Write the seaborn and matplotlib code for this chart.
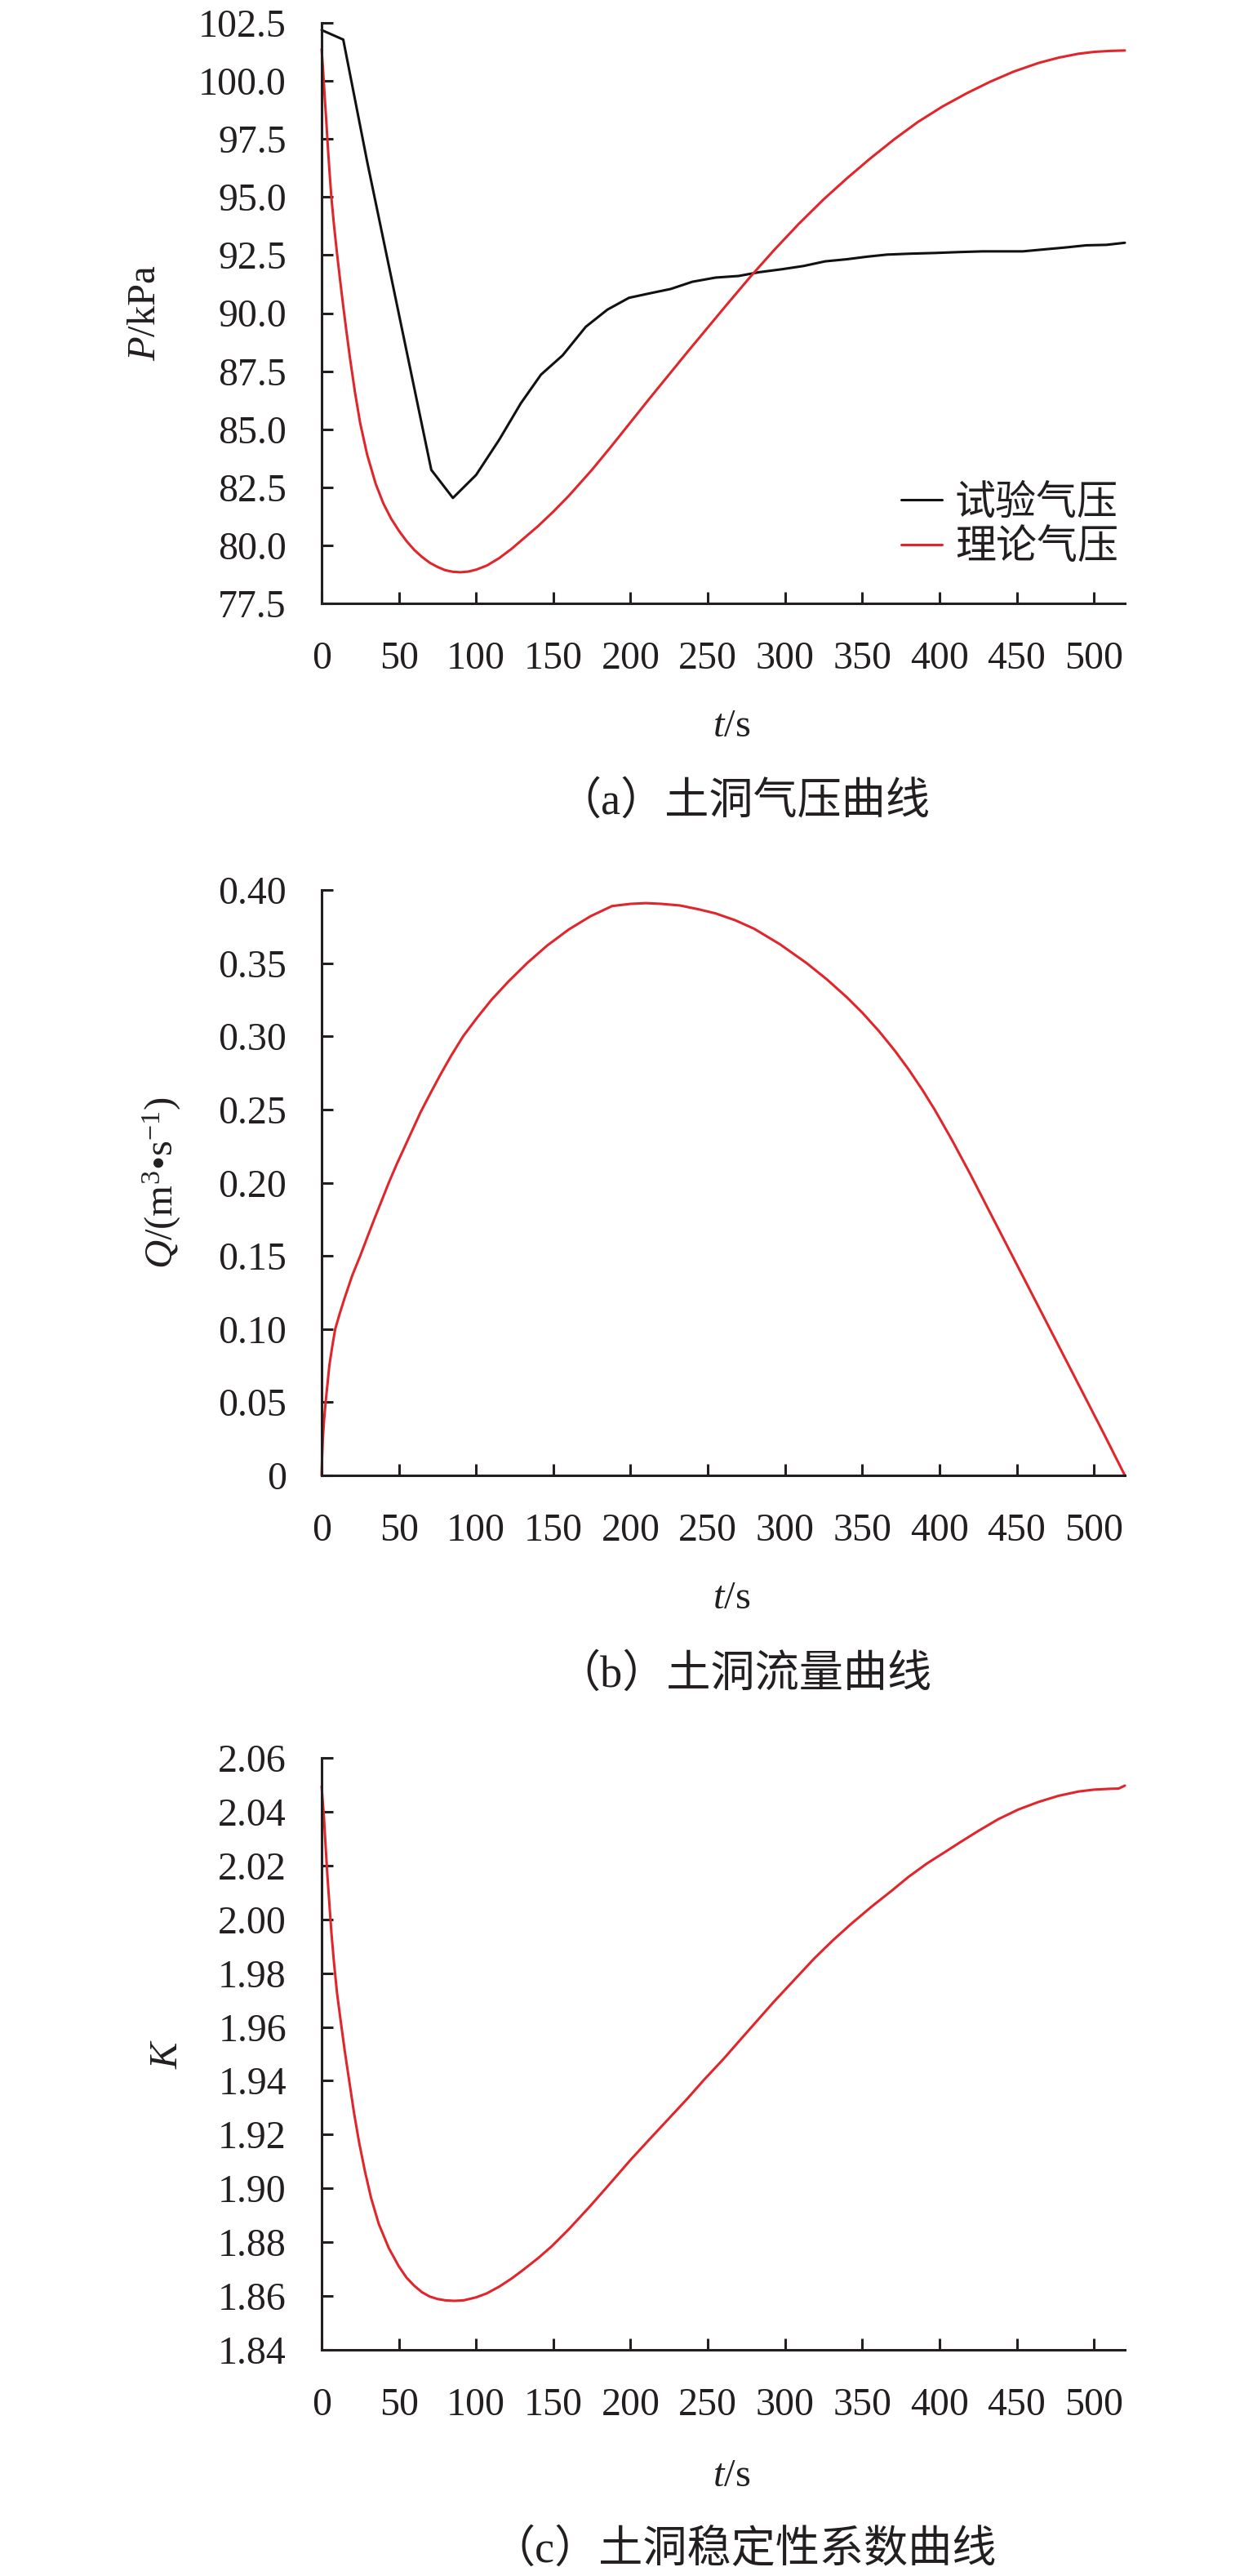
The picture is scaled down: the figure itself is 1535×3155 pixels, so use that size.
"""
土洞气压 / 流量 / 稳定性系数曲线 (三联图) 复现。
数值均为读图估计。
"""

import matplotlib

matplotlib.use("Agg")
import matplotlib.pyplot as plt  # noqa: E402
import seaborn as sns  # noqa: E402

# --- 数据 --------------------------------------------------------------
# (a) 试验气压 (折线, 约每 14 s 一个测点)
t_exp = [0, 14, 29.5, 71, 85, 100, 115, 129, 142, 156, 171, 185, 199, 213,
         226, 240, 255, 270, 283, 298, 312, 326, 340, 353, 366, 381, 397,
         413, 428, 454, 467, 482, 495, 508, 520]
p_exp = [102.19, 101.78, 96.52, 83.25, 82.04, 83.03, 84.55, 86.12, 87.35,
         88.18, 89.41, 90.15, 90.66, 90.86, 91.04, 91.35, 91.53, 91.60,
         91.76, 91.89, 92.03, 92.23, 92.32, 92.43, 92.52, 92.56, 92.59,
         92.63, 92.66, 92.66, 92.74, 92.83, 92.92, 92.94, 93.03]

# (a) 理论气压
t_theory = [0, 1, 2, 3, 4, 5, 6.3, 8, 10, 12, 14, 16, 18.5, 21.7, 25, 29.5,
            35, 40, 45, 50, 55, 60, 65, 70, 75, 80, 85, 90, 95, 100, 107,
            115, 123, 130, 140, 150, 160, 175, 187, 200, 212, 225, 237, 250,
            263, 278, 293, 309, 325, 340, 355, 371, 386, 402, 418, 433, 448,
            464, 477, 490, 500, 510, 520]
p_theory = [101.37, 100.4, 99.3, 98.3, 97.2, 96.2, 95.0, 93.8, 92.55, 91.4,
            90.3, 89.25, 88.0, 86.55, 85.25, 83.9, 82.65, 81.8, 81.15,
            80.63, 80.18, 79.8, 79.5, 79.25, 79.07, 78.93, 78.86, 78.84,
            78.87, 78.95, 79.13, 79.45, 79.85, 80.25, 80.82, 81.45, 82.13,
            83.25, 84.22, 85.3, 86.3, 87.36, 88.34, 89.38, 90.42, 91.6,
            92.72, 93.85, 94.9, 95.8, 96.65, 97.5, 98.23, 98.9, 99.48, 99.97,
            100.4, 100.77, 101.0, 101.17, 101.25, 101.29, 101.31]

# (b) 土洞流量
t_q = [0, 0.3, 0.8, 1.6, 2.6, 3.8, 5, 6.8, 8.8, 11.7, 15, 19.8, 25, 29.5,
       34, 38.8, 43.5, 48.7, 54, 59, 64, 70.5, 77, 84, 91.6, 100.5, 110, 121,
       133, 146, 160, 174, 188, 200, 210, 220, 232, 244, 255, 268, 280, 297,
       314, 327, 340, 350, 361, 371, 380, 389, 397, 408, 420, 433, 446, 458,
       469.5, 481, 493, 506, 520]
q_theory = [0, 0.012, 0.025, 0.038, 0.05, 0.0625, 0.075, 0.0875, 0.10,
            0.1105, 0.1215, 0.1365, 0.15, 0.1625, 0.1748, 0.1875, 0.20,
            0.2128, 0.225, 0.2365, 0.248, 0.2612, 0.274, 0.287, 0.30, 0.3125,
            0.325, 0.3375, 0.35, 0.362, 0.373, 0.382, 0.389, 0.3905, 0.391,
            0.3905, 0.3894, 0.3868, 0.384, 0.3792, 0.3735, 0.3627, 0.35,
            0.339, 0.3267, 0.3162, 0.3033, 0.2903, 0.2774, 0.2633, 0.2497,
            0.2293, 0.2057, 0.179, 0.1524, 0.1278, 0.1042, 0.0806, 0.056,
            0.0293, 0]

# (c) 土洞稳定性系数
t_k = [0, 0.7, 1.5, 2.5, 3.7, 5, 6.3, 8, 10, 12.4, 15, 17.6, 21, 24.3, 28,
       32, 37, 43.5, 50, 55, 60, 65, 70, 75, 80, 86, 92, 100, 107, 115, 123,
       130, 140, 149, 160, 174, 187, 200, 213, 226, 237, 247, 260, 273, 283,
       293, 306, 319, 331, 343, 356, 369, 380, 392, 403, 413, 425, 438, 451,
       464, 477, 490, 500, 510, 516, 520]
k_theory = [2.0494, 2.044, 2.038, 2.028, 2.0166, 2.006, 1.9953, 1.984,
            1.9725, 1.962, 1.951, 1.941, 1.928, 1.917, 1.9065, 1.8965,
            1.8868, 1.8778, 1.871, 1.8668, 1.8638, 1.8614, 1.8598, 1.8589,
            1.8584, 1.8582, 1.8584, 1.8595, 1.861, 1.8635, 1.8665, 1.8695,
            1.874, 1.8785, 1.8848, 1.8935, 1.902, 1.9106, 1.9187, 1.9267,
            1.9335, 1.940, 1.948, 1.9565, 1.963, 1.9695, 1.9775, 1.9855,
            1.9922, 1.9984, 2.0047, 2.0106, 2.0158, 2.0208, 2.0248, 2.0285,
            2.0328, 2.0372, 2.0408, 2.0436, 2.0459, 2.0475, 2.0482, 2.0485,
            2.0486, 2.0497]

x_ticks = [0, 50, 100, 150, 200, 250, 300, 350, 400, 450, 500]
p_ticks = [77.5, 80.0, 82.5, 85.0, 87.5, 90.0, 92.5, 95.0, 97.5, 100.0, 102.5]
q_ticks = [0, 0.05, 0.10, 0.15, 0.20, 0.25, 0.30, 0.35, 0.40]
q_tick_labels = ["0", "0.05", "0.10", "0.15", "0.20", "0.25", "0.30",
                 "0.35", "0.40"]
k_ticks = [1.84, 1.86, 1.88, 1.90, 1.92, 1.94, 1.96, 1.98, 2.00, 2.02,
           2.04, 2.06]

# --- 样式 ------------------------------------------------------------------
INK = "#231f20"
RED = "#e0262b"
SERIF = "Liberation Serif"
sns.set_style("ticks")
plt.rcParams["font.family"] = [SERIF, "Noto Sans CJK SC"]
plt.rcParams["mathtext.fontset"] = "custom"
plt.rcParams["mathtext.rm"] = SERIF
plt.rcParams["mathtext.it"] = SERIF + ":italic"
plt.rcParams["text.color"] = INK
plt.rcParams["axes.labelcolor"] = INK

W, H = 1535, 3155
fig = plt.figure(figsize=(W / 100, H / 100), dpi=100)


def make_axes(top, bottom):
    """按像素位置建一个坐标轴 (左 394, 右 1378)。"""
    ax = fig.add_axes([394 / W, 1 - bottom / H, (1378 - 394) / W,
                       (bottom - top) / H])
    sns.despine(ax=ax)
    for side in ("left", "bottom"):
        ax.spines[side].set_linewidth(2.2)
        ax.spines[side].set_color(INK)
    ax.tick_params(direction="in", length=10, width=2.2, color=INK,
                   labelsize=34.5, labelcolor=INK)
    ax.tick_params(axis="x", pad=33)
    ax.tick_params(axis="y", pad=31)
    ax.set_xlim(0, 520)
    ax.set_xticks(x_ticks)
    ax.set_xlabel("$t$/s", fontsize=35, va="center")
    return ax


def finish_ticks(ax):
    for lbl in ax.get_xticklabels() + ax.get_yticklabels():
        lbl.set_family(SERIF)


def draw(ax, x, y, color, label=None):
    sns.lineplot(x=x, y=y, ax=ax, color=color, linewidth=2.2,
                 estimator=None, sort=False, label=label, clip_on=False)


# (a) 气压
ax_a = make_axes(28, 739)
draw(ax_a, t_exp, p_exp, "#111111", "试验气压")
draw(ax_a, t_theory, p_theory, RED, "理论气压")
ax_a.set_ylim(77.5, 102.5)
ax_a.set_yticks(p_ticks, [f"{v:.1f}" for v in p_ticks])
ax_a.set_ylabel("$P$/kPa", fontsize=35, va="center")
ax_a.yaxis.set_label_coords(-0.2195, 0.5)
ax_a.xaxis.set_label_coords(0.51, -(890 - 739) / 711)
leg = ax_a.legend(loc="upper left", bbox_to_anchor=(0.7215, 0.2096),
                  frameon=False, handlelength=1.0, handletextpad=0.32,
                  labelspacing=0.05, borderpad=0, borderaxespad=0,
                  prop={"family": ["Noto Sans CJK SC"], "size": 36})
for line in leg.get_lines():
    line.set_linewidth(2.2)
finish_ticks(ax_a)

# (b) 流量
ax_b = make_axes(1090, 1807)
draw(ax_b, t_q, q_theory, RED)
ax_b.set_ylim(0, 0.40)
ax_b.set_yticks(q_ticks, q_tick_labels)
ax_b.set_ylabel("$Q$/(m$^3$•s$^{-1}$)", fontsize=35, va="center")
ax_b.yaxis.set_label_coords((198 - 394) / 984, 0.5)
ax_b.xaxis.set_label_coords(0.51, -(1958 - 1807) / 717)
finish_ticks(ax_b)

# (c) 稳定性系数
ax_c = make_axes(2153, 2878)
draw(ax_c, t_k, k_theory, RED)
ax_c.set_ylim(1.84, 2.06)
ax_c.set_yticks(k_ticks, [f"{v:.2f}" for v in k_ticks])
ax_c.set_ylabel("$K$", fontsize=35, va="center")
ax_c.yaxis.set_label_coords((205 - 394) / 984, 0.5)
ax_c.xaxis.set_label_coords(0.51, -(3033 - 2878) / 725)
finish_ticks(ax_c)

# 分图标题
for y_px, text in [(983, "（a）土洞气压曲线"), (2052, "（b）土洞流量曲线"),
                   (3124, "（c）土洞稳定性系数曲线")]:
    fig.text(911 / W, 1 - y_px / H, text, ha="center", va="center",
             fontsize=39, color=INK)

fig.savefig("out.png", dpi=100)
plt.close(fig)
